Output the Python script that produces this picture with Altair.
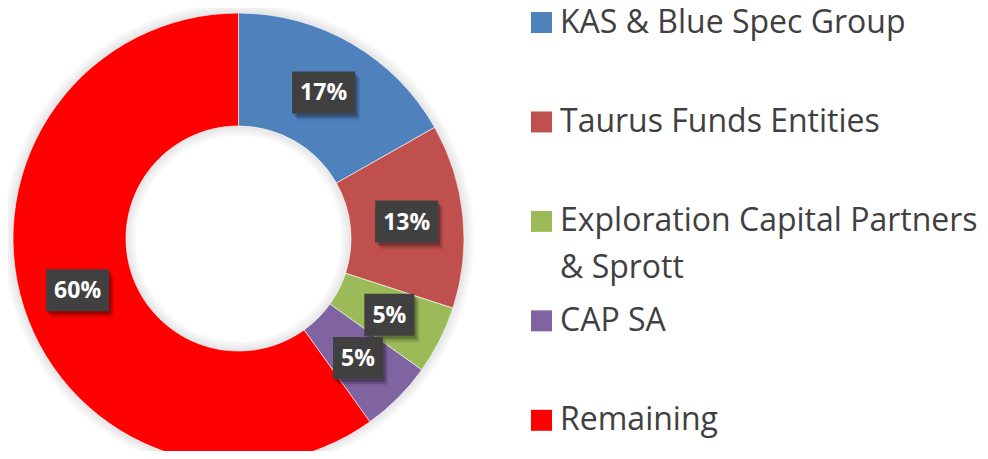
import altair as alt
import pandas as pd

# ---- data ----
names = ["KAS & Blue Spec Group", "Taurus Funds Entities",
         "Exploration Capital Partners & Sprott", "CAP SA", "Remaining"]
legend_text = ["KAS & Blue Spec Group", "Taurus Funds Entities",
               "Exploration Capital Partners\n& Sprott", "CAP SA", "Remaining"]
shares = [16.8, 13.2, 4.9, 5.2, 59.9]
labels = ["17%", "13%", "5%", "5%", "60%"]
colors = ["#4F81BD", "#C0504D", "#9BBB59", "#8064A2", "#FF0000"]

df = pd.DataFrame({"name": names, "legend": legend_text, "share": shares,
                   "label": labels, "idx": list(range(len(names)))})

# ---- layout ----
CX = CY = 230.5
R_OUT, R_IN, R_LAB = 225.5, 112.5, 169
LEG_Y0, LEG_STEP = 14.5, 99.45
FONT = "Open Sans"

base = alt.Chart(df)
theta = alt.Theta("share:Q", stack=True)
order = alt.Order("idx:O")
center = dict(x=alt.value(CX), y=alt.value(CY))

layers = []
# soft outer / inner glow shadow
for k in (2, 4, 6, 8, 10):
    layers.append(base.mark_arc(radius=R_OUT + k, radius2=R_OUT, color="#000000",
                                opacity=0.018).encode(theta=theta, order=order, **center))
    layers.append(base.mark_arc(radius=R_IN, radius2=R_IN - k, color="#000000",
                                opacity=0.018).encode(theta=theta, order=order, **center))

donut = base.mark_arc(radius=R_OUT, radius2=R_IN, stroke="#ffffff", strokeWidth=0.6).encode(
    theta=theta, order=order,
    color=alt.Color("name:N", scale=alt.Scale(domain=names, range=colors), legend=None),
    **center)
layers.append(donut)

# label positions computed from cumulative shares
lab = base.transform_window(
    cum="sum(share)", sort=[alt.SortField("idx")], frame=[None, 0]
).transform_joinaggregate(total="sum(share)").transform_calculate(
    ang="(datum.cum - datum.share/2) / datum.total * 2 * PI",
    hw="12 + 6.5 * length(datum.label)",
).transform_calculate(
    lx=f"{CX} + {R_LAB} * sin(datum.ang)",
    ly=f"{CY} - {R_LAB} * cos(datum.ang)",
).transform_calculate(
    x0="datum.lx - datum.hw", x1="datum.lx + datum.hw",
    y0="datum.ly - 21", y1="datum.ly + 21",
)

for dx, dy, op in ((2, 3, 0.22), (4, 5, 0.14), (5, 7, 0.07)):
    layers.append(lab.transform_calculate(
        sx0=f"datum.x0 + {dx}", sx1=f"datum.x1 + {dx}",
        sy0=f"datum.y0 + {dy}", sy1=f"datum.y1 + {dy}",
    ).mark_rect(color="#000000", opacity=op).encode(
        x=alt.X("sx0:Q", scale=None), x2="sx1:Q",
        y=alt.Y("sy0:Q", scale=None), y2="sy1:Q"))

layers.append(lab.mark_rect(color="#404040").encode(
    x=alt.X("x0:Q", scale=None), x2="x1:Q",
    y=alt.Y("y0:Q", scale=None), y2="y1:Q"))

layers.append(lab.mark_text(font=FONT, fontSize=23, fontWeight="bold", color="#ffffff",
                            align="center", baseline="middle", dy=1).encode(
    x=alt.X("lx:Q", scale=None), y=alt.Y("ly:Q", scale=None), text="label:N"))

# legend
leg = base.transform_calculate(ly=f"{LEG_Y0} + datum.idx * {LEG_STEP}")
layers.append(leg.mark_square(size=441, opacity=1).encode(
    x=alt.value(533.5), y=alt.Y("ly:Q", scale=None),
    color=alt.Color("name:N", scale=alt.Scale(domain=names, range=colors), legend=None)))
layers.append(leg.mark_text(font=FONT, fontSize=32, color="#404040", align="left",
                            baseline="alphabetic", lineBreak="\n", lineHeight=47, dy=10).encode(
    x=alt.value(552), y=alt.Y("ly:Q", scale=None), text="legend:N"))

chart = alt.layer(*layers).properties(
    width=972, height=443, padding=0,
    autosize=alt.AutoSizeParams(type="none"),
).configure_view(stroke=None)

chart.save("out.html", embed_options={"renderer": "svg", "actions": False})
